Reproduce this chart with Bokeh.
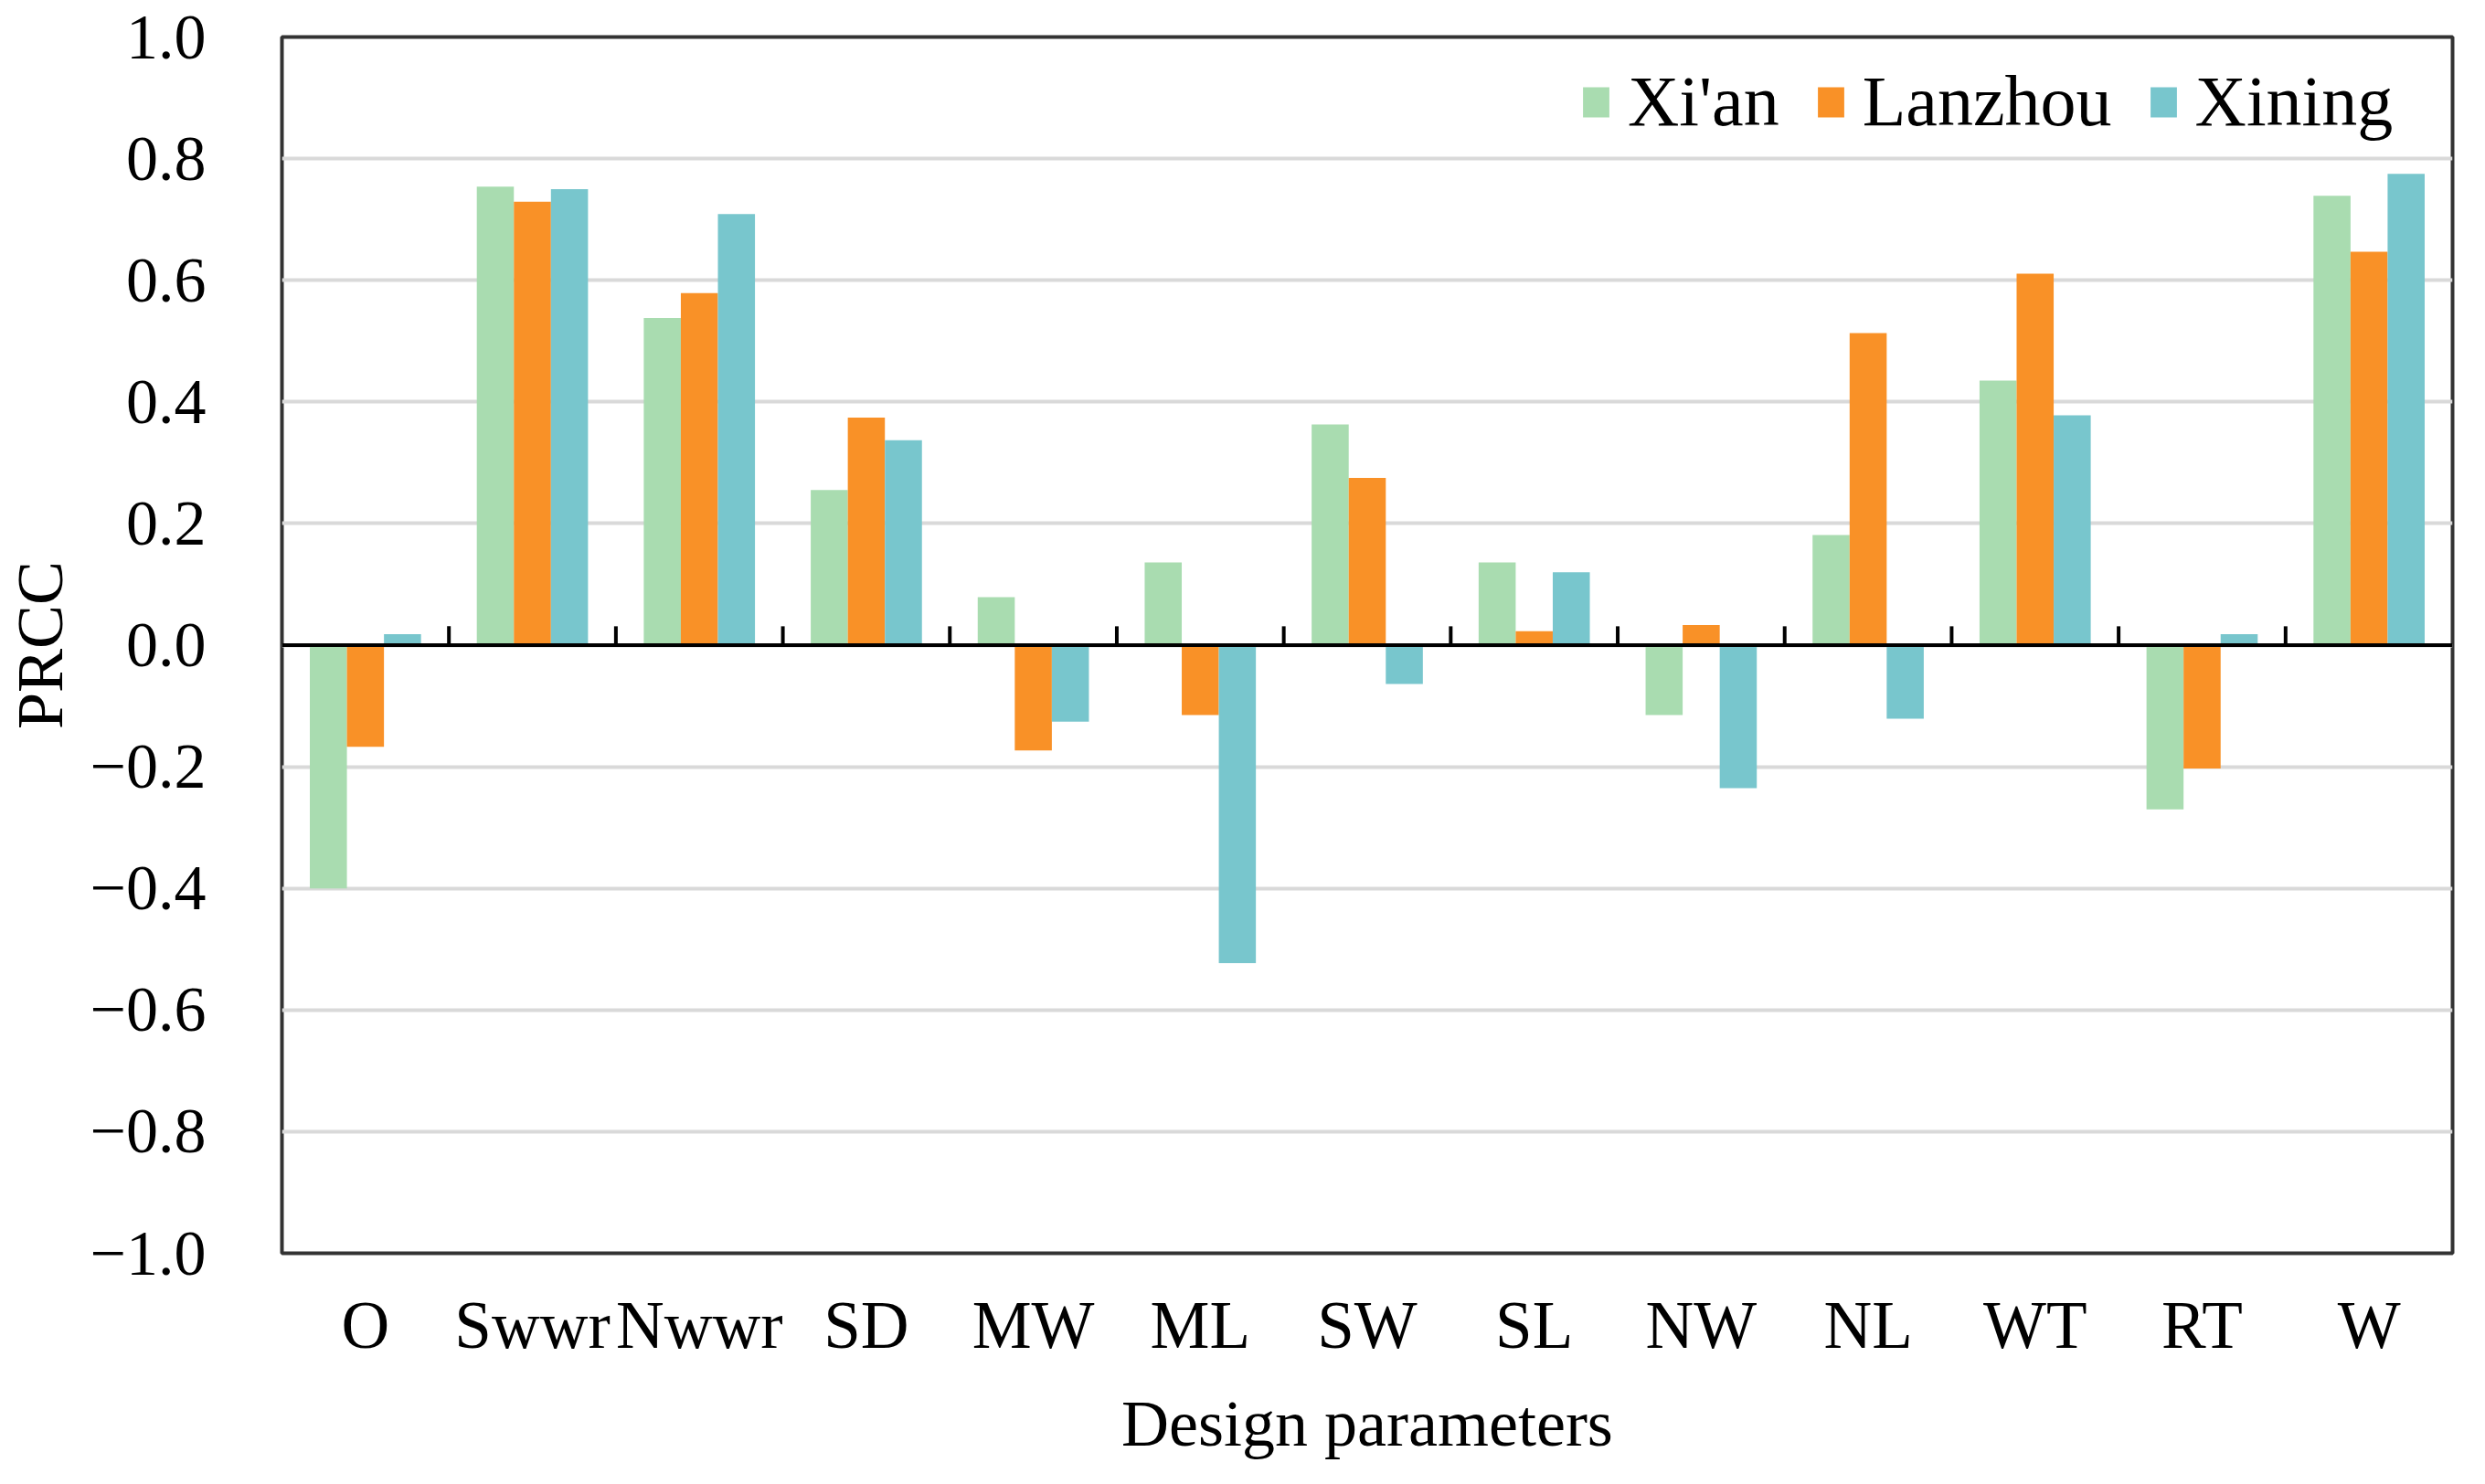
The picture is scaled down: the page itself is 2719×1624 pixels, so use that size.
from bokeh.plotting import figure
from bokeh.models import (ColumnDataSource, FactorRange, Range1d, FixedTicker,
                          CustomJSTickFormatter, Span, Legend, LegendItem)
from bokeh.transform import dodge
from bokeh.embed import file_html
from bokeh.resources import INLINE

categories = ["O", "Swwr", "Nwwr", "SD", "MW", "ML", "SW", "SL", "NW", "NL", "WT", "RT", "W"]
xian = [-0.40, 0.754, 0.538, 0.255, 0.079, 0.136, 0.363, 0.136, -0.115, 0.181, 0.435, -0.270, 0.739]
lanzhou = [-0.167, 0.729, 0.579, 0.374, -0.173, -0.115, 0.275, 0.023, 0.033, 0.513, 0.611, -0.203, 0.647]
xining = [0.018, 0.750, 0.709, 0.337, -0.126, -0.523, -0.064, 0.120, -0.235, -0.121, 0.378, 0.018, 0.775]
series_names = ["Xi'an", "Lanzhou", "Xining"]
series_colors = ["#a9dcb0", "#f99127", "#78c6cd"]
y_ticks = [-1.0, -0.8, -0.6, -0.4, -0.2, 0.0, 0.2, 0.4, 0.6, 0.8, 1.0]

FONT = "Liberation Serif"

source = ColumnDataSource(dict(cat=categories, xian=xian, lanzhou=lanzhou, xining=xining))
bounds = ColumnDataSource(dict(cat=categories[:-1], y0=[0.0] * (len(categories) - 1),
                               y1=[0.031] * (len(categories) - 1)))

p = figure(width=2700, height=1600, x_range=FactorRange(*categories, range_padding=0),
           y_range=Range1d(-1.0, 1.0), output_backend="svg", toolbar_location=None,
           min_border_left=296, min_border_right=17, min_border_top=40, min_border_bottom=226)

p.outline_line_color = "#333333"
p.outline_line_width = 4
p.background_fill_color = "white"
p.border_fill_color = "white"

p.xgrid.grid_line_color = None
p.ygrid.grid_line_color = "#d9d9d9"
p.ygrid.grid_line_width = 4
p.ygrid.ticker = FixedTicker(ticks=y_ticks)

offsets = [-0.222, 0.0, 0.222]
cols = ["xian", "lanzhou", "xining"]
renderers = []
for col, off, color in zip(cols, offsets, series_colors):
    r = p.vbar(x=dodge("cat", off, range=p.x_range), top=col, bottom=0, width=0.222,
               source=source, fill_color=color, line_color=None)
    renderers.append(r)

p.add_layout(Span(location=0, dimension="width", line_color="black", line_width=4))
p.segment(x0=dodge("cat", 0.5, range=p.x_range), x1=dodge("cat", 0.5, range=p.x_range),
          y0="y0", y1="y1", source=bounds, line_color="black", line_width=4)

# axes
p.yaxis.ticker = FixedTicker(ticks=y_ticks)
p.yaxis.formatter = CustomJSTickFormatter(
    code="return (tick < -1e-9 ? '\u2212' : '') + Math.abs(tick).toFixed(1);")
p.yaxis.axis_line_color = None
p.yaxis.major_tick_line_color = None
p.yaxis.minor_tick_line_color = None
p.yaxis.major_label_standoff = 77
p.yaxis.major_label_text_font = FONT
p.yaxis.major_label_text_font_size = "70px"
p.yaxis.major_label_text_color = "black"
p.yaxis.axis_label = "PRCC"
p.yaxis.axis_label_text_font = FONT
p.yaxis.axis_label_text_font_size = "72px"
p.yaxis.axis_label_text_font_style = "normal"
p.yaxis.axis_label_text_color = "black"
p.yaxis.axis_label_standoff = 12

p.xaxis.axis_line_color = None
p.xaxis.major_tick_line_color = None
p.xaxis.minor_tick_line_color = None
p.xaxis.major_label_standoff = 32
p.xaxis.major_label_text_font = FONT
p.xaxis.major_label_text_font_size = "73px"
p.xaxis.major_label_text_color = "black"
p.xaxis.axis_label = "Design parameters"
p.xaxis.axis_label_text_font = FONT
p.xaxis.axis_label_text_font_size = "72px"
p.xaxis.axis_label_text_font_style = "normal"
p.xaxis.axis_label_text_color = "black"
p.xaxis.axis_label_standoff = 24

legend = Legend(items=[LegendItem(label=n, renderers=[r]) for n, r in zip(series_names, renderers)],
                orientation="horizontal", location=(1420, 1215))
legend.label_text_font = FONT
legend.label_text_font_size = "78px"
legend.label_text_color = "black"
legend.glyph_width = 36
legend.glyph_height = 41
legend.label_standoff = 17
legend.spacing = 38
legend.padding = 0
legend.margin = 0
legend.border_line_color = None
legend.background_fill_alpha = 0
p.add_layout(legend)

open("out.html", "w").write(file_html(p, INLINE))
